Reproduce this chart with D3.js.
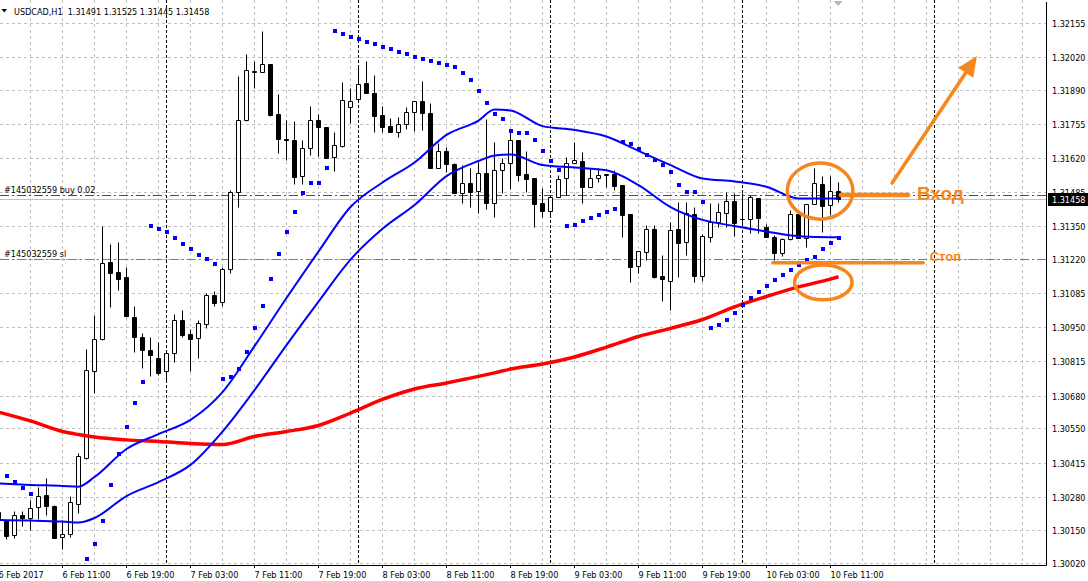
<!DOCTYPE html>
<html><head><meta charset="utf-8">
<script src="https://cdn.jsdelivr.net/npm/d3@7"></script>
<style>
html,body{margin:0;padding:0;background:#fff;}
svg{display:block;}
text{font-family:"DejaVu Sans Condensed","DejaVu Sans",sans-serif;font-stretch:condensed;}
text.ann{font-family:"Liberation Sans",Arial,sans-serif;font-stretch:normal;}
</style></head>
<body><svg id="c" width="1088" height="581"></svg>
<script>
// ---------- DATA (USDCAD H1, first bar = 6 Feb 2017 03:00) ----------
const open = [1.30220,1.30188,1.30128,1.30208,1.30197,1.30238,1.30286,1.30244,1.30120,1.30132,
1.30253,1.30432,1.30779,1.30903,1.31207,1.31170,1.31149,1.30990,1.30913,1.30861,
1.30829,1.30779,1.30848,1.30979,1.30924,1.30907,1.30962,1.31077,1.31052,1.31180,
1.31487,1.31770,1.31961,1.31961,1.31992,1.31793,1.31695,1.31691,1.31549,1.31658,
1.31770,1.31742,1.31623,1.31667,1.31823,1.31852,1.31918,1.31876,1.31790,1.31746,
1.31722,1.31753,1.31801,1.31845,1.31797,1.31582,1.31648,1.31596,1.31483,1.31520,
1.31491,1.31559,1.31441,1.31572,1.31599,1.31691,1.31555,1.31542,1.31441,1.31412,
1.31467,1.31540,1.31599,1.31608,1.31506,1.31540,1.31553,1.31555,1.31513,1.31398,
1.31194,1.31249,1.31339,1.31153,1.31135,1.31339,1.31289,1.31397,1.31154,1.31309,
1.31366,1.31404,1.31450,1.31379,1.31377,1.31460,1.31346,1.31309,1.31243,1.31298,
1.31397,1.31305,1.31437,1.31516,1.31434,1.31491];
const high = [1.30248,1.30188,1.30223,1.30225,1.30267,1.30320,1.30353,1.30248,1.30188,1.30283,
1.30452,1.30865,1.30999,1.31351,1.31280,1.31287,1.31190,1.31035,1.30927,1.30911,
1.30891,1.30850,1.31002,1.31019,1.30942,1.30979,1.31085,1.31094,1.31190,1.31493,
1.31944,1.32030,1.32004,1.32122,1.31992,1.31873,1.31770,1.31766,1.31691,1.31826,
1.31793,1.31742,1.31722,1.31922,1.31896,1.31981,1.32004,1.31948,1.31826,1.31777,
1.31783,1.31820,1.31845,1.31924,1.31836,1.31678,1.31665,1.31601,1.31592,1.31579,
1.31604,1.31773,1.31685,1.31618,1.31731,1.31691,1.31648,1.31542,1.31500,1.31474,
1.31553,1.31623,1.31684,1.31645,1.31579,1.31579,1.31555,1.31572,1.31513,1.31398,
1.31252,1.31355,1.31355,1.31236,1.31366,1.31445,1.31447,1.31427,1.31318,1.31441,
1.31441,1.31487,1.31480,1.31480,1.31474,1.31460,1.31359,1.31315,1.31305,1.31414,
1.31397,1.31437,1.31579,1.31549,1.31549,1.31525];
const low = [1.30180,1.30112,1.30116,1.30165,1.30149,1.30192,1.30208,1.30116,1.30074,1.30122,
1.30215,1.30428,1.30689,1.30900,1.31032,1.31098,1.30992,1.30854,1.30791,1.30759,
1.30762,1.30733,1.30814,1.30913,1.30779,1.30829,1.30946,1.31035,1.31035,1.31164,
1.31427,1.31766,1.31896,1.31961,1.31787,1.31641,1.31612,1.31517,1.31517,1.31632,
1.31628,1.31620,1.31570,1.31665,1.31757,1.31852,1.31878,1.31724,1.31724,1.31722,
1.31702,1.31733,1.31728,1.31731,1.31579,1.31582,1.31566,1.31480,1.31441,1.31427,
1.31404,1.31418,1.31385,1.31481,1.31497,1.31530,1.31487,1.31348,1.31388,1.31394,
1.31467,1.31474,1.31599,1.31441,1.31506,1.31526,1.31506,1.31493,1.31309,1.31131,
1.31166,1.31216,1.31144,1.31055,1.31019,1.31150,1.31236,1.31131,1.31135,1.31289,
1.31348,1.31348,1.31311,1.31348,1.31324,1.31324,1.31309,1.31216,1.31232,1.31296,
1.31302,1.31269,1.31437,1.31328,1.31394,1.31445];
const close = [1.30188,1.30126,1.30207,1.30197,1.30234,1.30283,1.30245,1.30118,1.30133,1.30258,
1.30440,1.30780,1.30904,1.31203,1.31164,1.31141,1.30995,1.30913,1.30861,1.30842,
1.30771,1.30848,1.30979,1.30920,1.30905,1.30966,1.31077,1.31048,1.31180,1.31484,
1.31770,1.31968,1.31964,1.31992,1.31790,1.31694,1.31692,1.31546,1.31658,1.31770,
1.31744,1.31621,1.31670,1.31849,1.31845,1.31911,1.31878,1.31787,1.31744,1.31722,
1.31753,1.31801,1.31845,1.31797,1.31582,1.31648,1.31595,1.31483,1.31520,1.31487,
1.31559,1.31441,1.31571,1.31599,1.31690,1.31553,1.31537,1.31437,1.31412,1.31467,
1.31536,1.31599,1.31612,1.31506,1.31540,1.31551,1.31555,1.31510,1.31394,1.31190,
1.31252,1.31339,1.31150,1.31140,1.31334,1.31285,1.31401,1.31154,1.31311,1.31366,
1.31405,1.31450,1.31364,1.31380,1.31464,1.31381,1.31309,1.31245,1.31298,1.31397,
1.31305,1.31437,1.31520,1.31430,1.31491,1.31458];

// Parabolic SAR (null = off screen)
const sar = [null,1.30362,1.30337,1.30316,1.30291,null,null,null,null,null,
null,1.30033,1.30093,1.30184,1.30327,1.30448,1.30556,1.30652,1.30734,1.31351,
1.31339,1.31326,1.31302,1.31280,1.31259,1.31236,1.31221,1.31202,1.30745,1.30755,
1.30785,1.30853,1.30948,1.31035,1.31141,1.31240,1.31327,1.31405,1.31480,1.31521,
1.31521,1.31580,1.32122,1.32110,1.32098,1.32091,1.32079,1.32071,1.32059,1.32051,
1.32039,1.32031,1.32019,1.32011,1.32004,1.31996,1.31988,1.31980,1.31956,1.31928,
1.31885,1.31837,1.31794,1.31774,1.31727,1.31719,1.31719,1.31691,1.31648,1.31608,
1.31572,1.31351,1.31355,1.31371,1.31383,1.31394,1.31406,1.31420,1.31683,1.31675,
1.31656,1.31632,1.31612,1.31592,1.31563,1.31513,1.31485,1.31485,1.31446,1.30946,
1.30959,1.30979,1.31006,1.31040,1.31066,1.31090,1.31115,1.31137,1.31157,1.31177,
1.31196,1.31215,1.31228,1.31258,1.31284,1.31304];

// Moving averages read at these bar indices
const maIdx   = [0,4,8,10,12,16,20,24,28,32,36,40,44,48,52,56,60,62,64,68,72,76,80,84,88,92,96,100,104,105];
const maRed   = [1.30615,1.30580,1.30538,1.30526,1.30516,1.30505,1.30499,1.30491,1.30487,1.30518,1.30538,1.30562,1.30611,1.30665,1.30706,1.30730,1.30756,1.30770,1.30785,1.30805,1.30833,1.30872,1.30914,1.30946,1.30981,1.31031,1.31072,1.31110,1.31141,1.31150];
const maFast  = [1.30333,1.30327,1.30323,1.30320,1.30358,1.30469,1.30528,1.30584,1.30694,1.30876,1.31066,1.31250,1.31426,1.31523,1.31602,1.31711,1.31768,1.31812,1.31808,1.31746,1.31731,1.31705,1.31648,1.31592,1.31539,1.31527,1.31506,1.31460,1.31460,1.31460];
const maSlow  = [1.30188,1.30186,1.30182,1.30178,1.30196,1.30283,1.30338,1.30406,1.30538,1.30702,1.30880,1.31052,1.31218,1.31340,1.31434,1.31548,1.31608,1.31630,1.31634,1.31592,1.31582,1.31571,1.31513,1.31426,1.31375,1.31351,1.31329,1.31310,1.31306,1.31306];

// Axis labels
const priceTicks = [1.32155,1.32020,1.31890,1.31755,1.31620,1.31485,1.31350,1.31220,1.31085,1.30950,1.30815,1.30680,1.30550,1.30415,1.30280,1.30150,1.30020];
const timeIdx    = [0,8,16,24,32,40,48,56,64,72,80,88,96,104];
const timeLabels = ["6 Feb 2017","6 Feb 11:00","6 Feb 19:00","7 Feb 03:00","7 Feb 11:00","7 Feb 19:00","8 Feb 03:00","8 Feb 11:00","8 Feb 19:00","9 Feb 03:00","9 Feb 11:00","9 Feb 19:00","10 Feb 03:00","10 Feb 11:00"];
const dayStartIdx = [21,45,69,93,117];
const titleText = "USDCAD,H1  1.31491 1.31525 1.31445 1.31458";
const bidPrice = 1.31458, buyPrice = 1.31473, slPrice = 1.31219;
const buyLabel = "#145032559 buy 0.02", slLabel = "#145032559 sl";

// ---------- CHART ----------
const PR = 1046, PB = 565;
const x = d3.scaleLinear().domain([0,1]).range([-1.5,6.5]);
const y = d3.scaleLinear().domain([1.30020,1.32155]).range([562.5,22.7]);
const cy = v => Math.round(y(v)) + 0.5;
const svg = d3.select("#c");
svg.append("defs").append("clipPath").attr("id","clip").append("rect").attr("x",0).attr("y",0).attr("width",PR).attr("height",PB);
const plot = svg.append("g").attr("clip-path","url(#clip)");

// grid
plot.selectAll(".hg").data(priceTicks).join("line")
  .attr("x1",0).attr("x2",PR).attr("y1",d=>cy(d)).attr("y2",d=>cy(d))
  .attr("stroke","#c0c0c0").attr("stroke-dasharray","3,3");
plot.selectAll(".vg").data(d3.range(0,131,4)).join("line")
  .attr("x1",d=>x(d)).attr("x2",d=>x(d)).attr("y1",0).attr("y2",PB)
  .attr("stroke","#c0c0c0").attr("stroke-dasharray","3,3");
plot.selectAll(".ds").data(dayStartIdx).join("line")
  .attr("x1",d=>x(d)).attr("x2",d=>x(d)).attr("y1",0).attr("y2",PB)
  .attr("stroke","#000").attr("stroke-dasharray","3,2");

// trade lines
plot.append("line").attr("x1",0).attr("x2",PR).attr("y1",cy(bidPrice)).attr("y2",cy(bidPrice)).attr("stroke","#c0c0c0");
plot.append("line").attr("x1",0).attr("x2",PR).attr("y1",cy(buyPrice)).attr("y2",cy(buyPrice)).attr("stroke","#0a7a0a").attr("stroke-dasharray","9,3,2,3");
plot.append("line").attr("x1",0).attr("x2",PR).attr("y1",cy(slPrice)).attr("y2",cy(slPrice)).attr("stroke","#ee5522").attr("stroke-dasharray","9,3,2,3");
plot.append("text").attr("x",4).attr("y",cy(buyPrice)-3).attr("font-size",9).attr("fill","#000").text(buyLabel);
plot.append("text").attr("x",4).attr("y",cy(slPrice)-3).attr("font-size",9).attr("fill","#000").text(slLabel);

// candles
const idx = d3.range(open.length);
const cg = plot.append("g");
cg.selectAll(".wick").data(idx).join("line")
  .attr("x1",i=>x(i)).attr("x2",i=>x(i)).attr("y1",i=>cy(high[i])).attr("y2",i=>cy(low[i]))
  .attr("stroke","#000");
cg.selectAll(".body").data(idx).join("path")
  .attr("d",i=>{const a=cy(open[i]),b=cy(close[i]),l=x(i)-2,r=x(i)+2;return `M${l},${a}H${r}V${b}H${l}Z`;})
  .attr("fill",i=>close[i]>=open[i]?"#fff":"#000").attr("stroke","#000");

// moving averages
const maLine = arr => d3.line().x((d,j)=>x(maIdx[j])).y(d=>y(d)).curve(d3.curveMonotoneX)(arr);
plot.append("path").attr("d",maLine(maRed)).attr("fill","none").attr("stroke","#ff0000").attr("stroke-width",3.5);
plot.append("path").attr("d",maLine(maFast)).attr("fill","none").attr("stroke","#0000ff").attr("stroke-width",2);
plot.append("path").attr("d",maLine(maSlow)).attr("fill","none").attr("stroke","#0000ff").attr("stroke-width",2);

// SAR
plot.selectAll(".sar").data(idx.filter(i=>sar[i]!=null)).join("rect")
  .attr("x",i=>x(i)-1.5).attr("y",i=>Math.round(y(sar[i]))-2).attr("width",4).attr("height",4).attr("fill","#0000ff");

// chart shift marker
svg.append("path").attr("d",`M${x(104.4)},1H${x(104.4)+9}L${x(104.4)+4.5},6Z`).attr("fill","#b8b8b8");

// axes
svg.append("line").attr("x1",PR+0.5).attr("x2",PR+0.5).attr("y1",2).attr("y2",PB+0.5).attr("stroke","#000");
svg.append("line").attr("x1",0).attr("x2",PR+0.5).attr("y1",PB+0.5).attr("y2",PB+0.5).attr("stroke","#000");
svg.selectAll(".yl").data(priceTicks).join("text")
  .attr("x",1052).attr("y",d=>cy(d)+3.5).attr("font-size",9).attr("fill","#000").text(d=>d.toFixed(5));
svg.selectAll(".xl").data(timeIdx).join("text")
  .attr("x",d=>x(d)).attr("y",577.5).attr("font-size",9).attr("fill","#000").text((d,j)=>timeLabels[j]);
svg.selectAll(".xt").data(timeIdx).join("line")
  .attr("x1",d=>x(d)).attr("x2",d=>x(d)).attr("y1",PB).attr("y2",PB+3).attr("stroke","#000");
// bid box
svg.append("rect").attr("x",1048).attr("y",cy(bidPrice)-6.5).attr("width",40).attr("height",13).attr("fill","#000");
svg.append("text").attr("x",1052).attr("y",cy(bidPrice)+3.5).attr("font-size",9).attr("fill","#fff").text(bidPrice.toFixed(5));

// title
svg.append("path").attr("d","M1.5,9H7L4.25,12.5Z").attr("fill","#000");
svg.append("text").attr("x",14).attr("y",14.5).attr("font-size",9).attr("fill","#000").attr("xml:space","preserve").style("white-space","pre").text(titleText);

// ---------- annotations ----------
const OR = "#f7861c";
const ann = svg.append("g").attr("fill","none").attr("stroke",OR).attr("stroke-linecap","round");
const pxX = k => x(k), pxY = p => y(p);
ann.append("ellipse").attr("cx",pxX(102.7)).attr("cy",pxY(1.31489)).attr("rx",x(4.1)-x(0)).attr("ry",y(1.30020)-y(1.30131)).attr("stroke-width",3.5);
ann.append("ellipse").attr("cx",pxX(103.1)).attr("cy",pxY(1.31128)).attr("rx",x(3.6)-x(0)).attr("ry",y(1.30020)-y(1.30089)).attr("stroke-width",3.5);
ann.append("line").attr("x1",pxX(105.3)).attr("x2",pxX(113.7)).attr("y1",pxY(1.31474)).attr("y2",pxY(1.31474)).attr("stroke-width",4.5);
ann.append("line").attr("x1",pxX(96.8)).attr("x2",pxX(115.6)).attr("y1",pxY(1.31206)).attr("y2",pxY(1.31206)).attr("stroke-width",3.5);
const a0=[pxX(111.7),pxY(1.31521)], a1=[pxX(122.3),pxY(1.32023)];
const dx=a1[0]-a0[0], dy=a1[1]-a0[1], L=Math.hypot(dx,dy), ux=dx/L, uy=dy/L;
const hl=20, hw=9, bx=a1[0]-ux*hl, by=a1[1]-uy*hl;
ann.append("line").attr("x1",a0[0]).attr("y1",a0[1]).attr("x2",bx+ux*3).attr("y2",by+uy*3).attr("stroke-width",3.5);
svg.append("path").attr("d",`M${a1[0]},${a1[1]}L${bx-uy*hw},${by+ux*hw}L${bx+uy*hw},${by-ux*hw}Z`).attr("fill",OR);
svg.append("text").attr("class","ann").attr("x",pxX(114.8)).attr("y",pxY(1.31454)).attr("font-size",19).attr("font-weight","bold").attr("fill",OR).text("Вход");
svg.append("text").attr("class","ann").attr("x",pxX(116.4)).attr("y",pxY(1.31211)).attr("font-size",13).attr("font-weight","bold").attr("fill",OR).text("Стоп");
</script></body></html>
